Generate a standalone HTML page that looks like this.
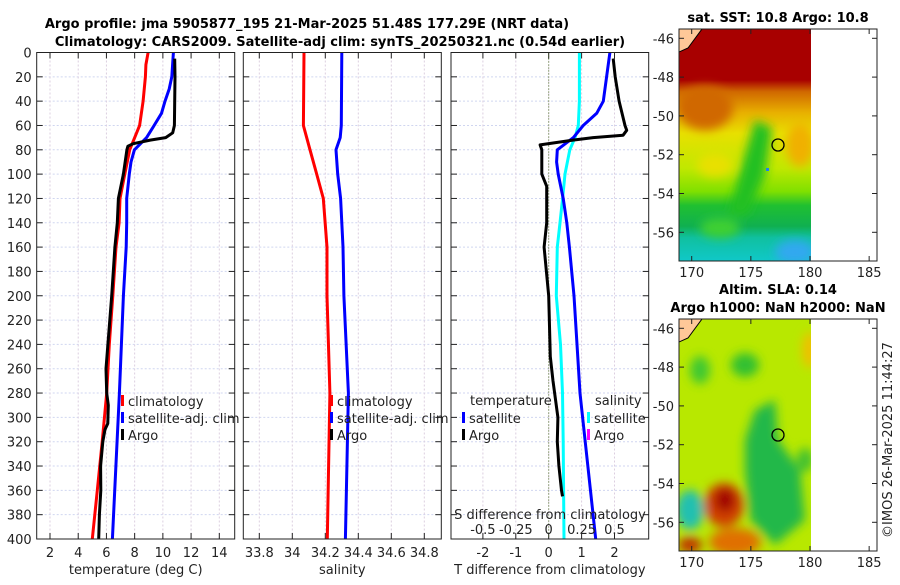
<!DOCTYPE html>
<html><head><meta charset="utf-8">
<style>
body{margin:0;background:#fff;width:900px;height:580px;overflow:hidden}
svg text{font-family:"DejaVu Sans","Liberation Sans",sans-serif;fill:#222}
.t{font-weight:bold;font-size:13px;fill:#000}
.tk{font-size:13px}
</style></head><body>
<svg id="chart" width="900" height="580" viewBox="0 0 900 580" xmlns="http://www.w3.org/2000/svg">
<defs>
<linearGradient id="sstg" x1="0" y1="0" x2="0" y2="1">
<stop offset="0" stop-color="#a80000"/><stop offset="0.22" stop-color="#a80000"/><stop offset="0.27" stop-color="#d06800"/><stop offset="0.36" stop-color="#e8b000"/><stop offset="0.45" stop-color="#e8e000"/><stop offset="0.6" stop-color="#c0e800"/><stop offset="0.7" stop-color="#80e000"/><stop offset="0.76" stop-color="#20c030"/><stop offset="0.85" stop-color="#10b050"/><stop offset="0.9" stop-color="#10c0a0"/><stop offset="1" stop-color="#10c8c8"/>
</linearGradient>
<filter id="bl"><feGaussianBlur stdDeviation="5"/></filter>
<clipPath id="c1"><rect x="679" y="29" width="132" height="232"/></clipPath>
<clipPath id="c2"><rect x="679" y="319" width="132" height="232"/></clipPath>
</defs>
<text class="t" x="307" y="28" text-anchor="middle">Argo profile: jma 5905877_195 21-Mar-2025 51.48S 177.29E (NRT data)</text>
<text class="t" x="340" y="46" text-anchor="middle">Climatology: CARS2009. Satellite-adj clim: synTS_20250321.nc (0.54d earlier)</text>
<g id="p1"></g>
<g id="p2"></g>
<g id="p3"></g>

<g>
<text class="t" x="778" y="22" text-anchor="middle">sat. SST: 10.8 Argo: 10.8</text>
<g clip-path="url(#c1)">
<rect x="679" y="29" width="132" height="232" fill="url(#sstg)"/>
<g filter="url(#bl)">
<ellipse cx="705" cy="108" rx="28" ry="22" fill="#d06800"/>
<ellipse cx="800" cy="145" rx="14" ry="22" fill="#f0b000"/>
<path d="M755 120 L772 128 L765 175 L748 215 L728 215 L742 165 Z" fill="#20c020"/>
<ellipse cx="715" cy="165" rx="18" ry="12" fill="#e8e000"/>
<ellipse cx="795" cy="252" rx="20" ry="12" fill="#30a8f0"/>
<ellipse cx="720" cy="228" rx="20" ry="10" fill="#40d030"/>
</g>
<path d="M679 29 L702 29 L688 48 L679 52 Z" fill="#ffc898" stroke="#000"/>
<rect x="766" y="168" width="3" height="3" fill="#2080f0"/>
</g>
<rect x="679" y="29" width="198" height="232" fill="none" stroke="#222"/>
<circle cx="778" cy="145" r="6" fill="none" stroke="#000" stroke-width="1.3"/>
</g>
<g>
<text class="t" x="778" y="294" text-anchor="middle">Altim. SLA: 0.14</text>
<text class="t" x="778" y="312" text-anchor="middle">Argo h1000: NaN h2000: NaN</text>
<g clip-path="url(#c2)">
<rect x="679" y="319" width="132" height="232" fill="#b8e800"/>
<g filter="url(#bl)">
<ellipse cx="700" cy="370" rx="10" ry="14" fill="#40c830"/>
<ellipse cx="745" cy="365" rx="14" ry="12" fill="#30c030"/>
<path d="M755 410 L775 400 L778 440 L800 470 L805 520 L775 545 L750 520 L745 470 L745 440 Z" fill="#20b848"/>
<ellipse cx="805" cy="460" rx="8" ry="12" fill="#40c030"/>
<ellipse cx="810" cy="350" rx="8" ry="18" fill="#f0c000"/>
<ellipse cx="690" cy="510" rx="14" ry="20" fill="#20c0b0"/>
<ellipse cx="724" cy="505" rx="20" ry="22" fill="#d04000"/>
<ellipse cx="725" cy="500" rx="10" ry="12" fill="#a00000"/>
<ellipse cx="735" cy="542" rx="26" ry="14" fill="#e07000"/>
<ellipse cx="690" cy="545" rx="12" ry="8" fill="#c03000"/>
</g>
<path d="M679 319 L702 319 L688 338 L679 342 Z" fill="#ffc898" stroke="#000"/>
</g>
<rect x="679" y="319" width="198" height="232" fill="none" stroke="#222"/>
<circle cx="778" cy="435" r="6" fill="none" stroke="#000" stroke-width="1.3"/>
</g>
<g id="maxes"></g>
<text class="tk" x="0" y="0" transform="translate(892,440) rotate(-90)" text-anchor="middle">©IMOS 26-Mar-2025 11:44:27</text>
</svg>
<script>
const depthTicks=[0,20,40,60,80,100,120,140,160,180,200,220,240,260,280,300,320,340,360,380,400];
const tempTicks=[2,4,6,8,10,12,14];
const salTicks=[33.8,34,34.2,34.4,34.6,34.8];
const tdiffTicks=[-2,-1,0,1,2];
const sdiffTicks=[-0.5,-0.25,0,0.25,0.5];
const sdiffTickLabels=["-0.5","-0.25","0","0.25","0.5"];
const lonTicks=[170,175,180,185];
const latTicks=[-46,-48,-50,-52,-54,-56];

const climTDepth=[0,10,20,40,60,70,80,100,120,140,160,200,240,280,320,360,400];
const climTVal=[8.95,8.8,8.76,8.6,8.35,8.0,7.65,7.3,6.96,6.9,6.68,6.45,6.2,6.02,5.7,5.35,5.0];
const satTDepth=[0,20,30,40,50,60,70,80,90,100,120,140,160,200,280,400];
const satTVal=[10.75,10.63,10.45,10.15,9.9,9.38,8.85,7.98,7.74,7.62,7.44,7.44,7.4,7.2,6.92,6.42];
const argoTDepth=[5,20,60,66,70,72,75,77,80,100,120,140,160,200,260,280,290,305,310,320,340,360,380,400];
const argoTVal=[10.84,10.86,10.82,10.7,10.2,9.1,7.9,7.52,7.45,7.2,6.85,6.77,6.6,6.37,5.97,6.02,6.13,6.1,5.9,5.74,5.59,5.6,5.5,5.45];

const climSDepth=[0,60,80,100,120,160,200,280,400];
const climSVal=[34.071,34.067,34.107,34.148,34.188,34.21,34.21,34.228,34.212];
const satSDepth=[0,60,70,80,100,120,160,200,280,400];
const satSVal=[34.30,34.297,34.29,34.265,34.275,34.293,34.307,34.313,34.34,34.322];

const satTdDepth=[0,20,40,50,60,70,80,90,100,120,140,160,200,240,280,400];
const satTdVal=[1.86,1.76,1.66,1.46,1.05,0.75,0.26,0.24,0.29,0.44,0.55,0.63,0.77,0.86,0.95,1.43];
const satSdDepth=[0,40,60,70,80,100,120,140,160,200,240,280,320,400];
const satSdVal=[0.233,0.233,0.225,0.2,0.16,0.124,0.106,0.086,0.065,0.058,0.09,0.105,0.11,0.116];
const argoTdDepth=[5,20,40,60,64,68,70,72,76,80,100,110,140,160,200,250,270,300,320,340,360,365];
const argoTdVal=[1.96,2.02,2.14,2.32,2.37,2.26,1.35,0.74,-0.26,-0.21,-0.21,-0.06,-0.06,-0.14,0,0.05,0.13,0.28,0.26,0.31,0.39,0.42];

const NS="http://www.w3.org/2000/svg";
function mk(parent,tag,attrs){const e=document.createElementNS(NS,tag);for(const k in attrs)e.setAttribute(k,attrs[k]);parent.appendChild(e);return e;}
const Y0=52.5,Y1=539;
const yD=d=>Y0+(Y1-Y0)*d/400;
function lin(d0,d1,r0,r1){return v=>r0+(v-d0)*(r1-r0)/(d1-d0);}

function panel(g,x0,x1,xs,xt,xlabels,showY,xTitle){
  mk(g,'rect',{x:x0,y:Y0,width:x1-x0,height:Y1-Y0,fill:'#fff'});
  depthTicks.forEach(d=>{
    const l=mk(g,'line',{x1:x0,x2:x1,y1:yD(d),y2:yD(d),stroke:'#d0d6f0','stroke-dasharray':'2,2','stroke-width':1});
    
    
    mk(g,'line',{x1:x0,x2:x0+6,y1:yD(d),y2:yD(d),stroke:'#222'});
    mk(g,'line',{x1:x1-6,x2:x1,y1:yD(d),y2:yD(d),stroke:'#222'});
    if(showY){const t=mk(g,'text',{x:x0-5,y:yD(d)+5,'text-anchor':'end',class:'tk'});t.textContent=d;
      
      }
  });
  xt.forEach((v,i)=>{
    const x=xs(v);
    const l=mk(g,'line',{x1:x,x2:x,y1:Y0,y2:Y1,stroke:'#dccfe0','stroke-dasharray':'2,2'});
    
    
    mk(g,'line',{x1:x,x2:x,y1:Y1,y2:Y1-6,stroke:'#222'});
    mk(g,'line',{x1:x,x2:x,y1:Y0,y2:Y0+6,stroke:'#222'});
    const t=mk(g,'text',{x:x,y:557,'text-anchor':'middle',class:'tk'});t.textContent=xlabels[i];
    
    
  });
  const tt=mk(g,'text',{x:(x0+x1)/2,y:574,'text-anchor':'middle',class:'tk'});tt.textContent=xTitle;
  
  
}
function frame(g,x0,x1){mk(g,'rect',{x:x0,y:Y0,width:x1-x0,height:Y1-Y0,fill:'none',stroke:'#222'});}
function series(g,xs,depths,vals,color,name){
  const d=depths.map((dd,i)=>(i?'L':'M')+xs(vals[i]).toFixed(1)+' '+yD(dd).toFixed(1)).join(' ');
  const p=mk(g,'path',{d:d,fill:'none',stroke:color,'stroke-width':3,'stroke-linejoin':'round'});
  
  
}
function legend(g,x,y,color,label,name){
  mk(g,'rect',{x:x,y:y-9,width:3,height:11,fill:color});
  const t=mk(g,'text',{x:x+7,y:y+2,class:'tk'});t.textContent=label;
  
  
}

const g1=document.getElementById('p1');
const xT=lin(2,14,50,219.3);
panel(g1,36.7,234.7,xT,tempTicks,tempTicks,true,'temperature (deg C)');
series(g1,xT,climTDepth,climTVal,'#ff0000','climatology-temp-line');
series(g1,xT,satTDepth,satTVal,'#0000ff','satellite-temp-line');
series(g1,xT,argoTDepth,argoTVal,'#000','argo-temp-line');
legend(g1,121,404,'#ff0000','climatology','legend-climatology');
legend(g1,121,421,'#0000ff','satellite-adj. clim','legend-satellite');
legend(g1,121,438,'#000','Argo','legend-argo');
frame(g1,36.7,234.7);

const g2=document.getElementById('p2');
const xS=lin(33.8,34.8,259.3,424.3);
panel(g2,243.3,441.3,xS,salTicks,salTicks,false,'salinity');
series(g2,xS,climSDepth,climSVal,'#ff0000','climatology-salinity-line');
series(g2,xS,satSDepth,satSVal,'#0000ff','satellite-salinity-line');
legend(g2,330,404,'#ff0000','climatology','legend-climatology');
legend(g2,330,421,'#0000ff','satellite-adj. clim','legend-satellite');
legend(g2,330,438,'#000','Argo','legend-argo');
frame(g2,243.3,441.3);

const g3=document.getElementById('p3');
const xTd=lin(0,2,548.7,614.5);
const xSd=lin(0,0.5,548.7,614.5);
panel(g3,451,648.7,xTd,tdiffTicks,tdiffTicks,false,'T difference from climatology');
mk(g3,'line',{x1:xTd(0),x2:xTd(0),y1:Y0,y2:Y1,stroke:'#4a6a20','stroke-dasharray':'1,2'});
series(g3,xSd,satSdDepth,satSdVal,'#00ffff','satellite-salinity-diff-line');
series(g3,xTd,satTdDepth,satTdVal,'#0000ff','satellite-temp-diff-line');
series(g3,xTd,argoTdDepth,argoTdVal,'#000','argo-temp-diff-line');
const s1=mk(g3,'text',{x:550,y:519,'text-anchor':'middle',class:'tk'});s1.textContent='S difference from climatology';


sdiffTicks.forEach((v,i)=>{const t=mk(g3,'text',{x:xSd(v),y:534,'text-anchor':'middle',class:'tk'});t.textContent=sdiffTickLabels[i];
  
  });
const tl=mk(g3,'text',{x:470,y:405,class:'tk'});tl.textContent='temperature';


const sl=mk(g3,'text',{x:595,y:405,class:'tk'});sl.textContent='salinity';


legend(g3,462,421,'#0000ff','satellite','legend-temp-satellite');
legend(g3,462,438,'#000','Argo','legend-temp-argo');
legend(g3,587,421,'#00ffff','satellite','legend-sal-satellite');
legend(g3,587,438,'#ff00ff','Argo','legend-sal-argo');
frame(g3,451,648.7);

const ma=document.getElementById('maxes');
const lonX=lin(170,180,691.7,810);
[[29,261,38.3],[319,551,328.3]].forEach(([top,bot,lat46],k)=>{
  const latY=lin(-46,-56,lat46,lat46+194);
  latTicks.forEach(v=>{const y=latY(v);
    mk(ma,'line',{x1:679,x2:684,y1:y,y2:y,stroke:'#222'});
    mk(ma,'line',{x1:872,x2:877,y1:y,y2:y,stroke:'#222'});
    const t=mk(ma,'text',{x:674,y:y+5,'text-anchor':'end',class:'tk'});t.textContent=v;
    
    });
  lonTicks.forEach(v=>{const x=lonX(v);
    mk(ma,'line',{x1:x,x2:x,y1:bot,y2:bot-5,stroke:'#222'});
    mk(ma,'line',{x1:x,x2:x,y1:top,y2:top+5,stroke:'#222'});
    const t=mk(ma,'text',{x:x,y:bot+16,'text-anchor':'middle',class:'tk'});t.textContent=v;
    
    });
});
</script>
</body></html>
